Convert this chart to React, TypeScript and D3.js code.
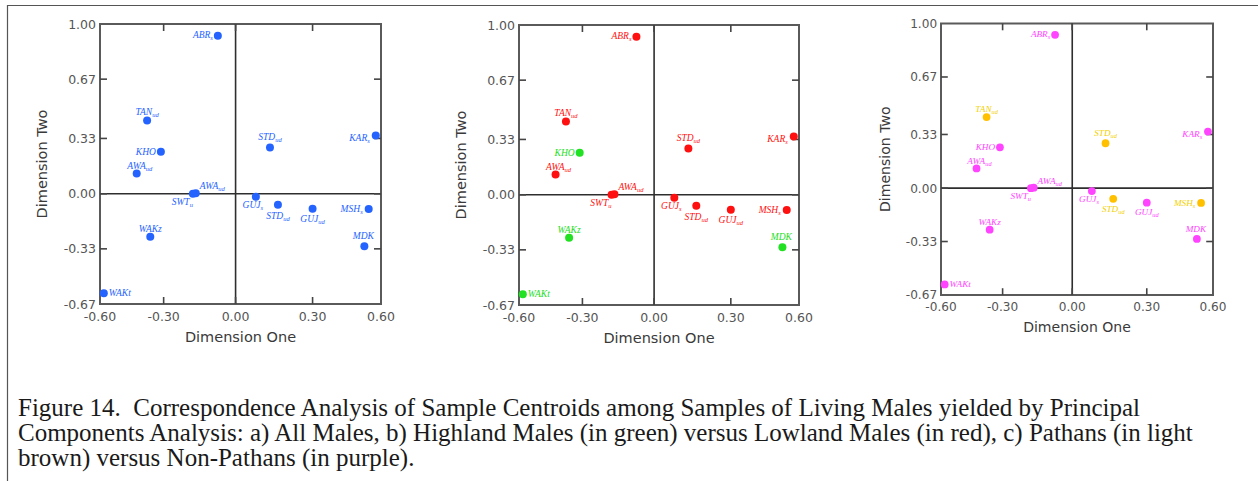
import React from 'react';
import * as d3 from 'd3';

// ---------- data ----------
const sampleNames = ["ABR", "TAN", "KHO", "AWA", "AWA", "SWT", "GUJ", "STD", "GUJ", "MSH", "MDK", "KAR", "STD", "WAKz", "WAKt"];
const sampleSubs = ["s", "ud", "", "ud", "ud", "u", "s", "ud", "ud", "s", "", "s", "ud", "", ""];
const dimensionOne = [-0.074, -0.378, -0.313, -0.427, -0.166, -0.178, 0.079, 0.165, 0.300, 0.546, 0.527, 0.577, 0.134, -0.363, -0.582];
const dimensionTwo = [0.930, 0.433, 0.251, 0.121, 0.003, 0.000, -0.018, -0.066, -0.090, -0.091, -0.314, 0.347, 0.276, -0.257, -0.603];
const highlandFlags = [0, 0, 1, 0, 0, 0, 0, 0, 0, 0, 1, 0, 0, 1, 1];
const pathanFlags = [0, 1, 0, 0, 0, 0, 0, 1, 0, 1, 0, 0, 1, 0, 0];

const xTickValues = [-0.6, -0.3, 0, 0.3, 0.6];
const xTickLabels = ["-0.60", "-0.30", "0.00", "0.30", "0.60"];
const yTickValues = [1, 0.67, 0.33, 0, -0.33, -0.67];
const yTickLabels = ["1.00", "0.67", "0.33", "0.00", "-0.33", "-0.67"];

const xAxisTitle = "Dimension One";
const yAxisTitle = "Dimension Two";

const captionLines = [
  "Figure 14.  Correspondence Analysis of Sample Centroids among Samples of Living Males yielded by Principal",
  "Components Analysis: a) All Males, b) Highland Males (in green) versus Lowland Males (in red), c) Pathans (in light",
  "brown) versus Non-Pathans (in purple).",
];

// ---------- layout / style ----------
const W = 1258;
const H = 481;
const X_FRAC = [0, 0.2265, 0.4825, 0.7565, 1];
const Y_FRAC = [0, 0.197, 0.4087, 0.6065, 0.803, 1];

// label placement per sample: [anchor, dx, dy(baseline)]
const labelPlacement: [string, number, number][] = [
  ["end", -5, 2],
  ["middle", 0, -5],
  ["end", -5, 3],
  ["middle", 3, -5],
  ["start", 4, -4],
  ["end", 0, 11],
  ["middle", -3, 11],
  ["middle", 0, 14],
  ["middle", 0, 13],
  ["end", -6, 3],
  ["middle", -1, -7],
  ["end", -6, 6],
  ["middle", 0, -7],
  ["middle", 0, -5],
  ["start", 5, 3],
];

const BLUE = "#2563ff";
const RED = "#ff1010";
const GREEN = "#22e022";
const MAGENTA = "#ff44ff";
const GOLD = "#ffc000";
const GOLD_TEXT = "#f2d000";

type PanelProps = {
  left: number; top: number; w: number; h: number; k: number;
  dotColor: (i: number) => string;
  textColor: (i: number) => string;
};

function Panel({ left, top, w, h, k, dotColor, textColor }: PanelProps) {
  const x = d3.scaleLinear().domain(xTickValues).range(X_FRAC.map(f => left + f * w));
  const y = d3.scaleLinear().domain(yTickValues).range(Y_FRAC.map(f => top + f * h));
  const right = left + w;
  const bottom = top + h;
  const tl = 7 * k;
  const tickFont = 12.5 * k;
  const titleFont = 14.5 * k;
  const labelFont = 9.5 * k;
  const subFont = 6.5 * k;

  return (
    <g>
      <rect x={left} y={top} width={w} height={h} fill="#fff" stroke="#5a5a5a" strokeWidth={2} />
      <line x1={x(0)} x2={x(0)} y1={top} y2={bottom} stroke="#2e2e2e" strokeWidth={1.6} />
      <line x1={left} x2={right} y1={y(0)} y2={y(0)} stroke="#2e2e2e" strokeWidth={1.6} />
      {xTickValues.slice(1, -1).map((v, i) => (
        <g key={"xt" + i}>
          <line x1={x(v)} x2={x(v)} y1={bottom} y2={bottom - tl} stroke="#444" strokeWidth={1.6} />
          <line x1={x(v)} x2={x(v)} y1={top} y2={top + tl} stroke="#444" strokeWidth={1.6} />
        </g>
      ))}
      {yTickValues.slice(1, -1).map((v, i) => (
        <g key={"yt" + i}>
          <line x1={left} x2={left + tl} y1={y(v)} y2={y(v)} stroke="#444" strokeWidth={1.6} />
          <line x1={right} x2={right - tl} y1={y(v)} y2={y(v)} stroke="#444" strokeWidth={1.6} />
        </g>
      ))}
      {xTickValues.map((v, i) => (
        <text key={"xl" + i} x={x(v)} y={bottom + 16.5 * k} textAnchor="middle"
          fontFamily="'DejaVu Sans', Verdana, sans-serif" fontSize={tickFont} fill="#555">
          {xTickLabels[i]}
        </text>
      ))}
      {yTickValues.map((v, i) => (
        <text key={"yl" + i} x={left - 4 * k} y={y(v)} dy="0.36em" textAnchor="end"
          fontFamily="'DejaVu Sans', Verdana, sans-serif" fontSize={tickFont} fill="#555">
          {yTickLabels[i]}
        </text>
      ))}
      <text x={(left + right) / 2} y={bottom + 38 * k} textAnchor="middle"
        fontFamily="'DejaVu Sans', Verdana, sans-serif" fontSize={titleFont} fill="#3a3a3a">
        {xAxisTitle}
      </text>
      <text transform={`translate(${left - 58 * k},${(top + bottom) / 2}) rotate(-90)`} textAnchor="middle"
        dominantBaseline="central"
        fontFamily="'DejaVu Sans', Verdana, sans-serif" fontSize={titleFont} fill="#3a3a3a">
        {yAxisTitle}
      </text>
      {dimensionOne.map((d1, i) => (
        <circle key={"pt" + i} cx={x(d1)} cy={y(dimensionTwo[i])} r={4 * k} fill={dotColor(i)} />
      ))}
      {dimensionOne.map((d1, i) => {
        const [anchor, dx, dy] = labelPlacement[i];
        return (
          <text key={"lb" + i} x={x(d1) + dx * k} y={y(dimensionTwo[i]) + dy * k}
            textAnchor={anchor as any} fontFamily="'Liberation Serif', 'Times New Roman', serif"
            fontStyle="italic" fontSize={labelFont} fill={textColor(i)}>
            {sampleNames[i]}
            {sampleSubs[i] ? <tspan fontSize={subFont} dy={2 * k}>{sampleSubs[i]}</tspan> : null}
          </text>
        );
      })}
    </g>
  );
}

export default function App() {
  return (
    <svg width={W} height={H} viewBox={`0 0 ${W} ${H}`}
      style={{ position: 'absolute', left: 0, top: 0, background: '#fff' }}>
      <rect x={0} y={0} width={W} height={H} fill="#fff" />
      <path d={`M7.5,${H} V5.5 H${W}`} fill="none" stroke="#555" strokeWidth={1.2} />
      <Panel left={100} top={24} w={281} h={280} k={1}
        dotColor={() => BLUE} textColor={() => BLUE} />
      <Panel left={519} top={25} w={280} h={280} k={1}
        dotColor={i => (highlandFlags[i] ? GREEN : RED)} textColor={i => (highlandFlags[i] ? GREEN : RED)} />
      <Panel left={941} top={23.5} w={272} h={271.5} k={0.97}
        dotColor={i => (pathanFlags[i] ? GOLD : MAGENTA)} textColor={i => (pathanFlags[i] ? GOLD_TEXT : MAGENTA)} />
      {captionLines.map((line, i) => (
        <text key={"cap" + i} x={18} y={416 + i * 25} fontFamily="'Liberation Serif', 'Times New Roman', serif"
          fontSize={25} fill="#1a1a1a" style={{ whiteSpace: 'pre' }}>
          {line}
        </text>
      ))}
    </svg>
  );
}
